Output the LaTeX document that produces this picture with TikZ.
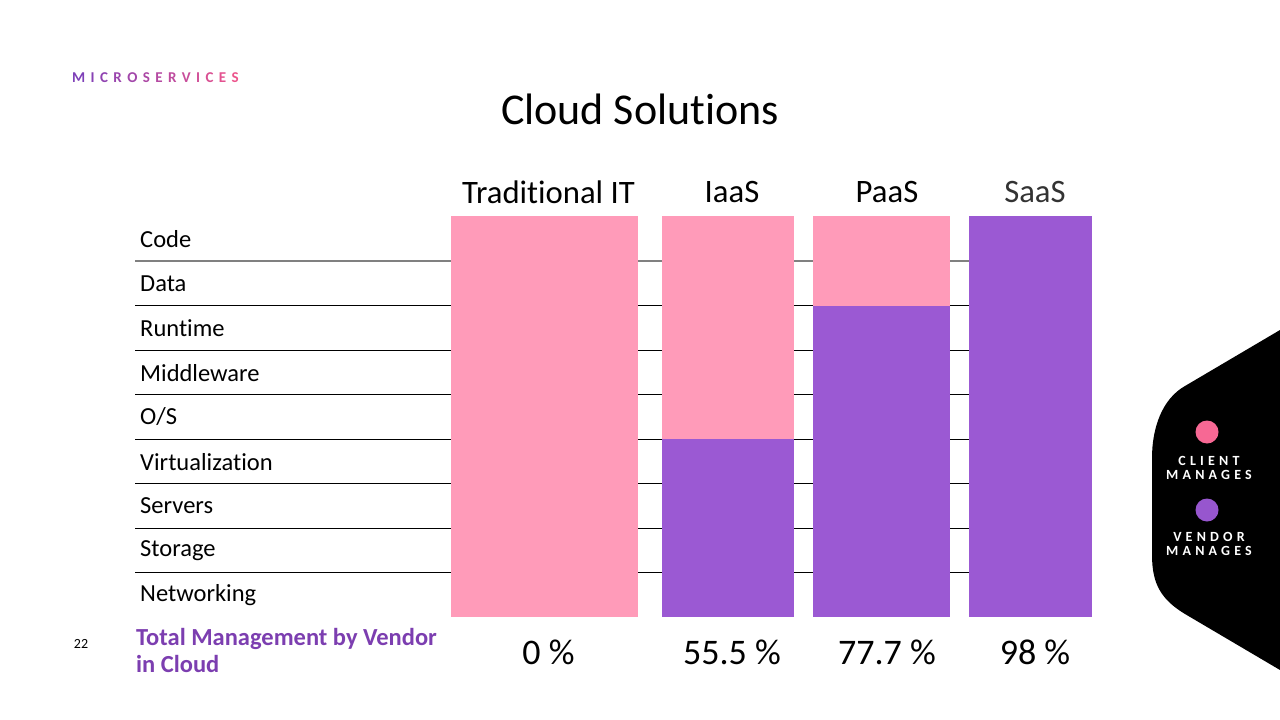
\documentclass[tikz,border=0pt]{standalone}
\usepackage{fontspec}
\setmainfont[Ligatures={NoCommon}]{Carlito}
\newfontfamily\spacedfont[LetterSpace=30,Ligatures={NoCommon}]{Carlito}
\definecolor{barpink}{RGB}{255,155,185}
\definecolor{barpurple}{RGB}{155,89,211}
\definecolor{dotpink}{RGB}{247,104,148}
\definecolor{dotpurple}{RGB}{151,86,206}
\definecolor{labpurple}{RGB}{124,62,176}
\definecolor{gpurple}{RGB}{126,64,184}
\definecolor{gpink}{RGB}{236,84,140}
\newcommand{\gl}[2]{\textcolor{gpink!#1!gpurple}{#2}\hspace{5.4pt}}
\tikzset{
  rowline/.style={draw=black,line width=0.9pt},
  rowlinegray/.style={draw=black!50,line width=1.2pt},
  rowlabel/.style={anchor=west,inner sep=0pt,font=\fontsize{24.5}{28}\selectfont},
  colhead/.style={anchor=center,inner sep=0pt,font=\fontsize{32.7}{38}\selectfont},
  pct/.style={anchor=center,inner sep=0pt,font=\fontsize{36}{40}\selectfont},
  legtext/.style={anchor=center,inner sep=0pt,text=white,align=center,font=\spacedfont\bfseries\fontsize{14}{14.5}\selectfont},
}
\begin{document}
\begin{tikzpicture}[x=1pt,y=-1pt]
\useasboundingbox (0,0) rectangle (1280,720);
% small header
\node[anchor=west,inner sep=0pt,font=\bfseries\fontsize{15}{17}\selectfont] (hdr) at (72,78)
 {\gl{0}{M}\gl{8}{I}\gl{16}{C}\gl{25}{R}\gl{33}{O}\gl{42}{S}\gl{50}{E}\gl{58}{R}\gl{67}{V}\gl{75}{I}\gl{83}{C}\gl{92}{E}\textcolor{gpink}{S}};
% title
\node[anchor=center,inner sep=0pt,font=\fontsize{44}{50}\selectfont] (title) at (640,109) {Cloud Solutions};
% row lines
\draw[rowlinegray] (135,261) -- (969,261);
\foreach \yy in {305.5,350,394.5,439,483.5,528,572.5}{
  \draw[rowline] (135,\yy) -- (969,\yy);
}
% row labels
\node[rowlabel] (r1) at (140,239) {Code};
\node[rowlabel] (r2) at (140,284) {Data};
\node[rowlabel] (r3) at (140,328) {Runtime};
\node[rowlabel] (r4) at (140,373) {Middleware};
\node[rowlabel] (r5) at (140,417) {O/S};
\node[rowlabel] (r6) at (140,462) {Virtualization};
\node[rowlabel] (r7) at (140,506) {Servers};
\node[rowlabel] (r8) at (140,551) {Storage};
\node[rowlabel] (r9) at (140,595) {Networking};
% bars
\fill[barpink] (451,216) rectangle (638,617);
\fill[barpink] (662,216) rectangle (794,439);
\fill[barpurple] (662,439) rectangle (794,617);
\fill[barpink] (813,216) rectangle (950,305.5);
\fill[barpurple] (813,305.5) rectangle (950,617);
\fill[barpurple] (969,216) rectangle (1092,617);
% column headers
\node[colhead] (h1) at (548.5,192) {Traditional IT};
\node[colhead] (h2) at (732,192) {IaaS};
\node[colhead] (h3) at (887,192) {PaaS};
\node[colhead,text=black!80] (h4) at (1035,192) {SaaS};
% percentages
\node[pct] (p1) at (548.5,652) {0 \%};
\node[pct] (p2) at (732,652) {55.5 \%};
\node[pct] (p3) at (887,652) {77.7 \%};
\node[pct] (p4) at (1035,652) {98 \%};
% bottom-left label
\node[anchor=north west,inner sep=0pt,align=left,text=labpurple,font=\bfseries\fontsize{24.5}{27}\selectfont] (tot) at (136,628) {Total Management by Vendor\\in Cloud};
\node[anchor=center,inner sep=0pt,font=\fontsize{14}{16}\selectfont] (pg) at (81,644) {22};
% legend shape
\fill[black] (1280,330) -- (1185,386) .. controls (1162,399) and (1152,428) .. (1152,458)
  -- (1152,555) .. controls (1152,585) and (1162,600) .. (1185,614) -- (1280,670) -- cycle;
\fill[dotpink] (1207,432) circle (11.5);
\fill[dotpurple] (1207,510) circle (11.5);
\node[legtext] (lc) at (1209,468) {CLIENT\\MANAGES};
\node[legtext] (lv) at (1209,544) {VENDOR\\MANAGES};
\end{tikzpicture}
\end{document}
